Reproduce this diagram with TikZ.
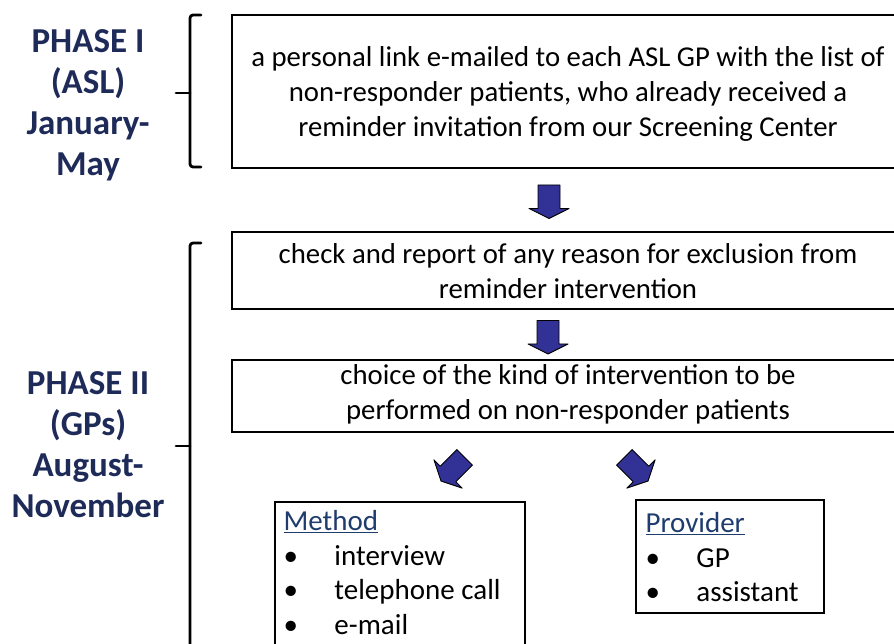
\documentclass[tikz,border=0pt]{standalone}
\usepackage{fontspec}
\setmainfont{Carlito}
\usetikzlibrary{calc}
\definecolor{phasecol}{RGB}{30,42,88}
\definecolor{headcol}{RGB}{31,60,110}
\definecolor{arrowfill}{RGB}{50,50,150}
\tikzset{
  stagebox/.style={draw=black,line width=1.4pt,minimum width=670pt,inner sep=0pt},
  stagetext/.style={inner sep=0pt,align=center,font=\fontsize{28.75}{35}\selectfont},
  listbox/.style={draw=black,line width=1.4pt,inner sep=0pt},
  listtext/.style={anchor=north west,inner sep=0pt,align=left,font=\fontsize{29}{34.5}\selectfont},
  phaselabel/.style={align=center,text=phasecol,font=\fontsize{35}{41}\selectfont\bfseries},
  blockarr/.pic={\draw[fill=arrowfill,line width=0.9pt,line join=round] (-11,16.5) -- (11,16.5) -- (11,-7) -- (20,-7) -- (0,-17) -- (-20,-7) -- (-11,-7) -- cycle;},
  bracket/.style={line width=2.8pt,line cap=round,line join=round}
}
\newcommand{\bul}{\makebox[51pt][l]{\textbullet}}
\begin{document}
\begin{tikzpicture}[x=1pt,y=1pt]
\useasboundingbox (0,0) rectangle (894,643);
\begin{scope}
\clip (0,0) rectangle (894,643);
% boxes
\node[stagebox,minimum height=153pt] (b1) at (567,551.5) {};
\node[stagetext] (t1) at (568,549.5) {a personal link e-mailed to each ASL GP with the list of\\non-responder patients, who already received a\\reminder invitation from our Screening Center};
\node[stagebox,minimum height=77pt] (b2) at (567,372.5) {};
\node[stagetext] (t2) at (568,372) {check and report of any reason for exclusion from\\reminder intervention};
\node[stagebox,minimum height=72pt] (b3) at (567,247) {};
\node[stagetext] (t3) at (568,248.5) {choice of the kind of intervention to be\\performed on non-responder patients};
\node[listbox,minimum width=250pt,minimum height=160pt] (m) at (400,61) {};
\node[listbox,minimum width=188pt,minimum height=113pt] (p) at (730,86.5) {};
\node[listtext] (mt) at ($(m.north west)+(9,-9)$) {\textcolor{headcol}{\underline{Method}}\\\bul interview\\\bul telephone call\\\bul e-mail};
\node[listtext] (pt) at ($(p.north west)+(10,-13)$) {\textcolor{headcol}{\underline{Provider}}\\\bul GP\\\bul assistant};
% arrows
\coordinate (a1) at ($(b1.south)!0.5!(b2.north)+(-18,-1.5)$);
\coordinate (a2) at ($(b2.south)!0.5!(b3.north)+(-19,-2.5)$);
\pic at (a1) {blockarr};
\pic at (a2) {blockarr};
\pic[rotate=-45] at (453,174) {blockarr};
\pic[rotate=45] at (636,174) {blockarr};
% phase labels
\node[phaselabel] (ph1) at (88,538) {PHASE I\\(ASL)\\January-\\May};
\node[phaselabel] (ph2) at (88,198) {PHASE II\\(GPs)\\August-\\November};
% brackets
\coordinate (c1) at (201,628);
\coordinate (u1) at (201,476);
\coordinate (k1) at (176,550);
\draw[bracket,rounded corners=3pt] (c1) -- (190,628) -- (190,476) -- (u1);
\draw[bracket] (k1) -- (190,550);
\coordinate (c2) at (201,400);
\coordinate (k2) at (176,197);
\draw[bracket,rounded corners=3pt] (c2) -- (190,400) -- (190,-10);
\draw[bracket] (k2) -- (190,197);
\end{scope}
\end{tikzpicture}
\end{document}
